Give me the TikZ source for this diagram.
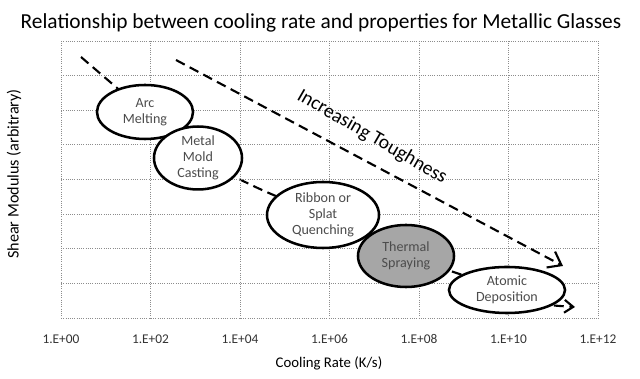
\documentclass[tikz,border=0pt]{standalone}
\usepackage{fontspec}
\setmainfont{Carlito}
\usetikzlibrary{shapes.geometric,backgrounds,arrows.meta}
\tikzset{%
  method/.style   = {shape=ellipse, draw, line width=1.8pt, fill=white,%
                     align=center, inner sep=0pt, text=black!70,%
                     font=\fontsize{10}{11.5}\selectfont},%
  gridline/.style = {black!45, densely dotted, line width=0.6pt},%
  tick/.style     = {font=\fontsize{9.5}{11}\selectfont, text=black!80},%
  trend/.style    = {dashed, dash pattern=on 7pt off 4pt, line width=1.5pt}%
}

\begin{document}
\begin{tikzpicture}[x=0.025cm,y=-0.025cm]
	\useasboundingbox (0,0) rectangle (640,379);
	% grid
	\foreach \gx in {61,150.5,240,329.5,419,508.5,598}
		\draw[gridline] (\gx,41) -- (\gx,318);
	\foreach \gy in {41,75.6,110.2,144.9,179.5,214.1,248.7,283.4,318}
		\draw[gridline] (61,\gy) -- (598,\gy);
	% labels
	\node (title) at (321,23) {\fontsize{15.2}{17}\selectfont Relationship between cooling rate and properties for Metallic Glasses};
	\node[tick] (t0) at (61,339) {1.E+00};
	\node[tick] (t2) at (150.5,339) {1.E+02};
	\node[tick] (t4) at (240,339) {1.E+04};
	\node[tick] (t6) at (329.5,339) {1.E+06};
	\node[tick] (t8) at (419,339) {1.E+08};
	\node[tick] (t10) at (508.5,339) {1.E+10};
	\node[tick] (t12) at (598,339) {1.E+12};
	\node (xlabel) at (329,363) {\fontsize{10.5}{12}\selectfont Cooling Rate (K/s)};
	\node[rotate=90] (ylabel) at (14,174) {\fontsize{11.5}{13}\selectfont Shear Modulus (arbitrary)};
	% methods
	\node[method, minimum width=2.4cm, minimum height=1.35cm] (arc) at (145,112) {Arc\\Melting};
	\node[method, minimum width=2.2cm, minimum height=1.3cm] (mold) at (198,158) {Metal\\Mold\\Casting};
	\node[method, minimum width=2.8cm, minimum height=1.65cm] (ribbon) at (323,215) {Ribbon or\\Splat\\Quenching};
	\node[method, minimum width=2.4cm, minimum height=1.55cm, fill=black!35] (thermal) at (406,256) {Thermal\\Spraying};
	\node[method, minimum width=2.9cm, minimum height=1.15cm] (atomic) at (507,290) {Atomic\\Deposition};
	\coordinate (start) at (81,57);
	\coordinate (finish) at (575,307);
	\begin{pgfonlayer}{background}
		\draw[trend, -{Straight Barb[length=2.2mm,width=3.2mm]}] (start) -- (arc.center) -- (mold.center)
			.. controls (260,190) .. (ribbon.center) -- (thermal.center) -- (atomic.center)
			.. controls (530,304) .. (finish);
	\end{pgfonlayer}
	% toughness
	\coordinate (tstart) at (176,60);
	\coordinate (tend) at (563,266);
	\draw[trend, -{Straight Barb[length=3mm,width=4.5mm]}] (tstart) -- (tend);
	\node[rotate=-30] (tough) at (372,137) {\fontsize{14}{16}\selectfont Increasing Toughness};
\end{tikzpicture}
\end{document}
